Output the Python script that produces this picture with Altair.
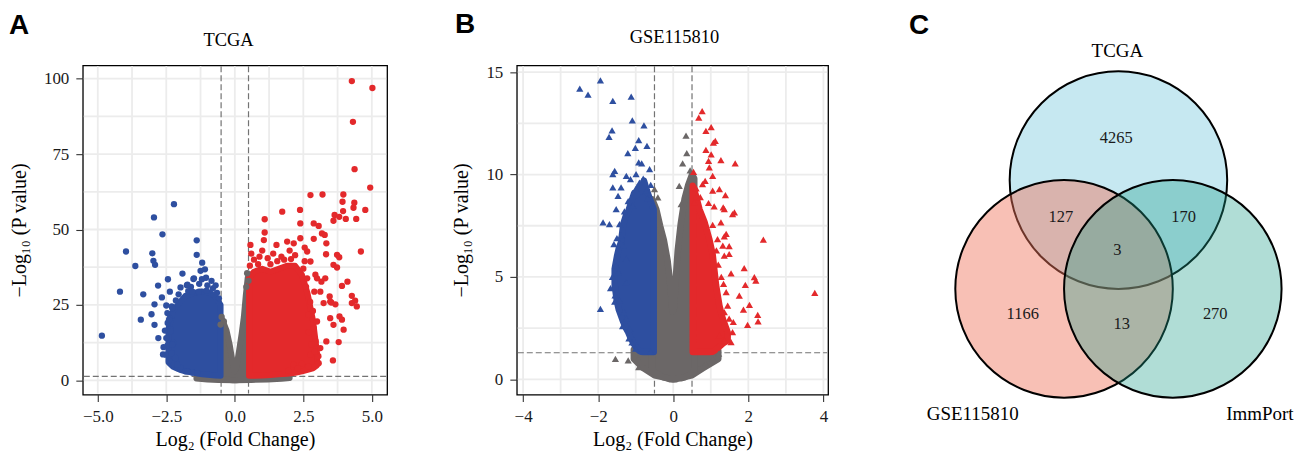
import altair as alt
import pandas as pd

# ---------------- colours / fonts ----------------
C_DOWN = "#2e4fa0"
C_UP = "#e3292b"
C_NS = "#6b6767"
GRID = "#ececec"
DASH = "#737373"
SERIF = "Liberation Serif"
SANS = "Liberation Sans"

# ---------------- Panel A : TCGA volcano ----------------
A_title = ["TCGA"]
A_letter = ["A"]
A_xticks = [-5.0, -2.5, 0.0, 2.5, 5.0]
A_yticks = [0, 25, 50, 75, 100]
A_xgrid = [-5.0, -3.75, -2.5, -1.25, 0.0, 1.25, 2.5, 3.75, 5.0]
A_ygrid = [0, 12.5, 25, 37.5, 50, 62.5, 75, 87.5, 100]
A_fc_cut = [-0.5, 0.5]
A_p_cut = [1.3]

A_down = [(-4.85, 14.8), (-4.19, 29.4), (-3.97, 42.7), (-3.63, 37.9), (-3.43, 20.1), (-3.34, 28.5),
          (-3.04, 21.9), (-3.01, 42.1), (-2.95, 54.0), (-2.97, 39.6), (-2.91, 38.3), (-2.93, 25.2),
          (-2.93, 18.4), (-2.79, 14.0), (-2.80, 31.4), (-2.64, 48.4), (-2.66, 27.5), (-2.22, 58.4),
          (-2.44, 33.5), (-2.37, 29.4), (-1.91, 35.4), (-1.39, 46.4), (-1.39, 41.6), (-1.19, 39.0),
          (-1.09, 36.8), (-1.25, 36.3), (-1.51, 33.6), (-2.52, 8.5), (-2.22, 5.2), (-2.10, 4.1),
          (-2.50, 14.0), (-2.46, 22.3), (-2.46, 11.5), (-2.37, 20.6), (-1.98, 30.8), (-1.49, 33.8),
          (-2.24, 5.7), (-1.98, 4.1), (-2.30, 24.5), (-2.15, 26.5), (-1.75, 31.5), (-1.60, 31.0),
          (-1.30, 32.0), (-1.00, 31.5), (-0.80, 30.5), (-0.65, 29.0), (-2.35, 17.0), (-2.45, 19.0),
          (-2.30, 9.0), (-2.40, 6.5), (-1.80, 3.0), (-1.55, 2.6), (-0.85, 33.0), (-1.05, 34.0),
          (-1.70, 29.6), (-2.05, 28.5), (-2.55, 16.5), (-2.25, 12.5), (-1.73, 31.7), (-1.55, 29.4),
          (-1.31, 29.4), (-1.03, 29.7), (-0.76, 28.3), (-0.58, 27.2), (-2.28, 23.9), (-2.40, 20.1),
          (-2.34, 16.2), (-2.28, 11.8), (-2.16, 7.4), (-2.10, 5.2), (-1.73, 3.0), (-1.37, 2.4),
          (-2.60, 11.0), (-2.62, 8.6), (-2.50, 24.8), (-1.20, 33.5), (-0.70, 31.5)]
A_up = [(4.27, 99.2), (5.02, 96.9), (4.31, 85.7), (4.37, 70.0), (4.94, 63.9), (4.60, 42.7),
        (3.96, 61.6), (3.93, 59.2), (4.36, 58.9), (4.33, 57.2), (4.76, 56.5), (3.95, 56.1),
        (3.64, 54.8), (3.81, 54.2), (3.60, 52.9), (4.05, 53.5), (4.43, 53.5), (3.20, 61.6),
        (2.76, 61.4), (2.38, 56.5), (1.73, 55.9), (1.09, 53.4), (1.09, 49.0), (2.39, 52.0),
        (2.88, 52.0), (3.06, 51.2), (3.18, 48.7), (3.28, 48.2), (2.88, 46.9), (2.39, 47.1),
        (1.91, 46.0), (1.52, 44.9), (1.06, 46.5), (0.57, 44.9), (3.34, 45.4), (3.73, 41.6),
        (3.81, 40.8), (4.11, 32.7), (3.91, 31.3), (4.27, 28.0), (4.27, 25.6), (4.45, 24.5),
        (4.39, 26.4), (3.60, 38.3), (3.73, 37.4), (3.52, 25.8), (3.67, 25.2), (3.82, 21.2),
        (3.91, 20.1), (3.97, 16.8), (3.79, 12.7), (3.58, 6.6), (3.06, 5.7), (2.69, 4.6),
        (3.12, 10.7), (2.76, 8.5), (3.24, 25.6), (3.00, 33.8), (3.16, 32.7), (3.30, 33.8),
        (2.15, 45.4), (2.15, 5.2), (3.48, 20.6), (3.34, 12.9), (2.88, 17.3), (3.48, 26.1),
        (3.33, 41.8), (2.94, 35.0), (2.76, 39.4), (2.64, 42.7), (2.64, 33.8), (2.90, 29.4),
        (3.12, 29.4), (3.46, 27.8), (3.60, 18.4), (2.69, 21.7), (3.00, 19.5), (0.70, 40.0),
        (0.90, 41.0), (1.20, 40.5), (1.40, 42.0), (1.70, 41.0), (2.00, 43.0), (2.20, 41.5),
        (0.55, 38.0), (0.60, 42.0), (1.30, 38.5), (2.50, 37.0), (2.55, 44.0), (2.75, 26.0),
        (2.85, 23.0), (2.95, 13.0), (3.05, 8.0), (2.45, 5.5), (2.30, 4.0), (1.95, 3.2),
        (1.80, 40.0), (1.00, 43.0), (2.60, 31.0), (2.80, 12.0), (2.55, 39.5), (1.55, 39.5),
        (0.85, 38.5), (2.05, 40.2), (2.70, 16.0), (2.92, 9.5)]
A_ns = [(0.45, 35.5), (0.50, 33.0), (-0.48, 21.0), (0.42, 31.0), (-0.40, 19.5), (-0.52, 18.5)]

# dense point clouds (outline: x, upper edge, lower edge)
A_down_core = ([-2.42, -2.25, -2.0, -1.8, -1.5, -1.2, -0.9, -0.7, -0.52],
               [17, 23, 26, 28, 29, 29.5, 29, 27.5, 25],
               [6, 4.5, 3.5, 3.0, 2.5, 2.0, 1.8, 1.6, 1.5])
A_up_core = ([0.52, 0.7, 1.0, 1.3, 1.6, 1.9, 2.2, 2.45, 2.65, 2.85, 3.0],
             [34, 36, 37, 36, 37, 38, 38, 35, 29, 20, 9],
             [1.5, 1.5, 1.6, 1.8, 2.0, 2.2, 2.5, 3.0, 3.5, 4.0, 5.0])
A_ns_v = ([-0.58, -0.45, -0.3, -0.18, -0.08, -0.01, 0.06, 0.15, 0.25, 0.33, 0.4, 0.47, 0.56],
          [19, 20, 16.5, 11.5, 6, 3, 4.5, 9.5, 15.5, 21, 28, 34, 35],
          [0.4, 0.3, 0.2, 0.1, 0.05, 0.0, 0.05, 0.1, 0.15, 0.2, 0.25, 0.3, 0.4])
A_ns_band = ([-1.4, -1.0, -0.6, 0.0, 0.6, 1.2, 1.7, 2.0],
             [1.0, 1.8, 2.0, 2.0, 2.0, 2.0, 1.6, 1.0],
             [0.6, 0.3, 0.15, 0.0, 0.15, 0.3, 0.5, 0.8])

# ---------------- Panel B : GSE115810 volcano ----------------
B_title = ["GSE115810"]
B_letter = ["B"]
B_xticks = [-4, -2, 0, 2, 4]
B_yticks = [0, 5, 10, 15]
B_xgrid = [-4, -3, -2, -1, 0, 1, 2, 3, 4]
B_ygrid = [0, 2.5, 5, 7.5, 10, 12.5, 15]
B_fc_cut = [-0.5, 0.5]
B_p_cut = [1.3]

B_down = [(-2.49, 14.19), (-2.27, 13.9), (-1.94, 14.6), (-1.61, 13.6), (-1.12, 13.8), (-1.09, 12.65),
          (-0.78, 12.4), (-1.63, 12.16), (-1.71, 11.84), (-0.92, 11.68), (-0.70, 11.4), (-1.01, 11.3),
          (-1.21, 11.04), (-0.92, 10.59), (-0.84, 10.55), (-0.63, 10.26), (-1.56, 10.18), (-1.61, 10.02),
          (-1.25, 9.94), (-0.99, 10.02), (-1.14, 9.78), (-1.39, 9.37), (-1.61, 9.37), (-1.87, 7.67),
          (-1.70, 7.58), (-1.43, 7.58), (-1.94, 3.44), (-1.67, 4.45), (-1.56, 3.8), (-1.43, 3.85),
          (-1.39, 7.02), (-1.52, 5.55), (-1.46, 5.23), (-1.25, 5.88), (-1.34, 6.53), (-1.25, 4.74),
          (-1.31, 3.28), (-1.25, 2.96), (-1.16, 2.47), (-1.52, 8.31), (-1.47, 8.96), (-1.08, 8.48),
          (-0.72, 9.21), (-0.68, 8.84), (-0.55, 8.48), (-0.90, 9.6), (-0.80, 9.8), (-0.60, 9.5),
          (-1.00, 9.3), (-1.20, 8.7), (-1.30, 8.2), (-1.10, 1.8), (-1.00, 1.5), (-0.60, 1.35),
          (-1.58, 6.6), (-1.62, 5.0), (-1.55, 4.1), (-1.35, 2.6), (-1.18, 2.0), (-1.50, 6.9)]
B_up = [(0.77, 13.1), (0.68, 12.78), (1.01, 12.32), (0.87, 12.13), (1.07, 11.56), (1.12, 11.64),
        (0.87, 11.2), (1.01, 10.99), (0.94, 10.67), (1.27, 10.70), (1.65, 10.55), (0.96, 10.35),
        (0.54, 10.13), (1.05, 9.94), (0.85, 9.69), (0.78, 9.53), (0.61, 9.32), (1.23, 9.29),
        (1.05, 9.21), (1.39, 9.0), (0.62, 8.96), (0.56, 8.64), (0.94, 8.61), (1.09, 8.45),
        (1.33, 8.40), (1.36, 8.31), (1.63, 8.15), (1.58, 8.07), (1.27, 7.67), (1.05, 7.54),
        (1.41, 7.10), (1.36, 6.98), (2.40, 6.82), (1.18, 6.85), (1.32, 6.53), (1.49, 6.50),
        (1.36, 6.04), (1.49, 6.12), (1.89, 5.43), (2.16, 4.99), (2.20, 4.82), (1.92, 4.61),
        (1.34, 4.66), (1.54, 5.18), (3.77, 4.22), (1.76, 4.09), (1.41, 4.26), (2.03, 3.64),
        (1.87, 3.41), (2.25, 3.15), (2.26, 2.83), (1.98, 2.66), (1.49, 2.96), (1.58, 2.31),
        (1.54, 1.82), (1.36, 1.90), (1.23, 2.14), (1.36, 3.28), (1.20, 5.6), (1.28, 5.0),
        (1.15, 6.3), (0.72, 8.9), (1.45, 3.6), (1.60, 2.8)]
B_ns = [(-1.54, 1.0), (-1.20, 0.93), (0.34, 11.9), (0.36, 11.04), (0.25, 10.55), (-0.94, 1.0),
        (1.05, 1.0), (1.21, 1.25), (0.87, 0.76), (-0.92, 0.6), (0.16, 9.45), (0.21, 8.56),
        (-0.50, 9.29), (-0.41, 8.88), (0.45, 10.2)]

B_down_core = ([-1.56, -1.5, -1.45, -1.39, -1.33, -1.26, -1.2, -1.13, -1.04, -0.97, -0.91, -0.85,
                -0.78, -0.7, -0.64, -0.58, -0.52],
               [5.4, 6.0, 6.4, 6.7, 7.6, 8.0, 8.2, 8.6, 9.1, 9.0, 9.4, 9.2, 9.7, 9.2, 8.9, 8.6, 8.3],
               [4.6, 3.8, 3.4, 3.1, 2.8, 2.5, 2.3, 2.0, 1.7, 1.5, 1.4, 1.35, 1.33, 1.33, 1.33, 1.33, 1.33])
B_up_core = ([0.52, 0.6, 0.7, 0.83, 0.96, 1.05, 1.14, 1.23, 1.32, 1.45],
             [9.45, 9.0, 8.3, 7.7, 6.85, 6.1, 4.6, 3.6, 2.95, 2.3],
             [1.33, 1.33, 1.33, 1.33, 1.33, 1.35, 1.45, 1.6, 1.75, 1.9])
B_ns_v = ([-0.56, -0.45, -0.35, -0.25, -0.15, -0.07, -0.02, 0.02, 0.07, 0.12, 0.2, 0.3, 0.4, 0.5, 0.56],
          [8.8, 8.3, 7.5, 6.8, 5.8, 4.5, 3.3, 3.5, 5.0, 6.3, 7.6, 8.8, 9.5, 10.0, 9.8],
          [0.4, 0.3, 0.2, 0.1, 0.05, 0.0, 0.0, 0.0, 0.0, 0.05, 0.05, 0.1, 0.2, 0.3, 0.4])
B_ns_band = ([-1.05, -0.8, -0.5, 0.0, 0.5, 0.8, 1.2],
             [1.45, 1.45, 1.45, 1.45, 1.45, 1.45, 1.4],
             [1.0, 0.55, 0.2, 0.0, 0.2, 0.55, 1.0])

# ---------------- Panel C : Venn ----------------
venn_letter = ["C"]
venn_sets = ["TCGA", "GSE115810", "ImmPort"]
venn_fill = ["#8dd1e3", "#ef735a", "#1d9e8a"]
venn_alpha = [0.5, 0.45, 0.35]
# circle centres in units of the circle radius
venn_cx = [0.0, -0.5, 0.5]
venn_cy = [-0.5, 0.5, 0.5]
venn_set_lx = [-0.01, -1.34, 1.30]
venn_set_ly = [-1.69, 1.65, 1.65]
venn_counts = ["4265", "127", "170", "3", "1166", "13", "270"]
venn_count_x = [-0.02, -0.53, 0.60, -0.01, -0.88, 0.03, 0.89]
venn_count_y = [-0.89, -0.16, -0.16, 0.14, 0.73, 0.82, 0.73]

# ---------------- layout constants ----------------
A_W, A_H = 305, 330
B_W, B_H = 312, 330
C_W, C_H = 345, 330
SPACING = 130
VENN_R = 109                    # circle radius, px
VENN_CX_PX, VENN_CY_PX = 161, 169.5


def pts_frame(ns, down, up):
    rows = []
    for g, lst in (("NS", ns), ("Down", down), ("Up", up)):
        for x, y in lst:
            rows.append({"x": x, "y": y, "g": g})
    return pd.DataFrame(rows)


def make_axis(values, expr, title, tpad):
    return alt.Axis(values=values, labelExpr=expr, title=title, titlePadding=tpad)


def volcano(w, h, xdom, ydom, xgrid, ygrid, xticks, yticks, xfmt, fc_cut, p_cut,
            cores, ns, down, up, shape, size, halo, title, letter,
            title_dx, title_dy, letter_dx, letter_dy):
    xs = alt.Scale(domain=xdom, nice=False, zero=False)
    ys = alt.Scale(domain=ydom, nice=False, zero=False)
    minus = "replace(format(datum.value, '%s'), '-', '\u2212')" % xfmt
    ax = make_axis(xticks, minus, "Log\u2082 (Fold Change)", 5)
    ay = make_axis(yticks, "format(datum.value, 'd')", "\u2212Log\u2081\u2080 (P value)", 14)
    X = lambda: alt.X("x:Q", scale=xs, axis=ax)
    Y = lambda: alt.Y("y:Q", scale=ys, axis=ay)
    gx = alt.Chart(pd.DataFrame({"x": xgrid})).mark_rule(color=GRID, strokeWidth=1.8).encode(
        x=X(), y=alt.value(1), y2=alt.value(h - 1))
    gy = alt.Chart(pd.DataFrame({"y": ygrid})).mark_rule(color=GRID, strokeWidth=1.8).encode(
        y=Y(), x=alt.value(1), x2=alt.value(w - 1))
    dvx = alt.Chart(pd.DataFrame({"x": fc_cut})).mark_rule(
        color=DASH, strokeWidth=1.2, strokeDash=[6, 3]).encode(
        x=X(), y=alt.value(1), y2=alt.value(h - 1))
    dhy = alt.Chart(pd.DataFrame({"y": p_cut})).mark_rule(
        color=DASH, strokeWidth=1.2, strokeDash=[6, 3]).encode(
        y=Y(), x=alt.value(1), x2=alt.value(w - 1))
    layers = [gx, gy, dvx, dhy]
    for core, col in cores:
        df = pd.DataFrame({"x": core[0], "y": core[1], "y2": core[2]})
        layers.append(alt.Chart(df).mark_area(
            color=col, stroke=col, strokeWidth=halo, strokeJoin="round", opacity=1
        ).encode(x=X(), y=Y(), y2="y2:Q"))
    pts = alt.Chart(pts_frame(ns, down, up)).mark_point(
        shape=shape, filled=True, size=size, opacity=1, strokeWidth=0
    ).encode(
        x=X(), y=Y(),
        color=alt.Color("g:N", scale=alt.Scale(domain=["NS", "Down", "Up"],
                                               range=[C_NS, C_DOWN, C_UP]), legend=None),
    )
    layers.append(pts)
    ttl = alt.Chart(pd.DataFrame({"t": title})).mark_text(
        font=SERIF, fontSize=18.5, color="black", align="center", baseline="middle"
    ).encode(text="t:N", x=alt.value(title_dx), y=alt.value(title_dy))
    let = alt.Chart(pd.DataFrame({"t": letter})).mark_text(
        font=SANS, fontSize=28, fontWeight="bold", color="black", align="left", baseline="top"
    ).encode(text="t:N", x=alt.value(letter_dx), y=alt.value(letter_dy))
    layers += [ttl, let]
    return alt.layer(*layers).properties(
        width=w, height=h, view=alt.ViewBackground(stroke="black", strokeWidth=1.3))


pA = volcano(A_W, A_H, [-5.546, 5.557], [-4.73, 104.4], A_xgrid, A_ygrid, A_xticks, A_yticks,
             ".1f", A_fc_cut, A_p_cut,
             [(A_ns_band, C_NS), (A_ns_v, C_NS), (A_down_core, C_DOWN), (A_up_core, C_UP)],
             A_ns, A_down, A_up, "circle", 40, 6, A_title, A_letter,
             146, -25, -74, -53)

pB = volcano(B_W, B_H, [-4.167, 4.125], [-0.745, 15.33], B_xgrid, B_ygrid, B_xticks, B_yticks,
             "d", B_fc_cut, B_p_cut,
             [(B_ns_band, C_NS), (B_ns_v, C_NS), (B_down_core, C_DOWN), (B_up_core, C_UP)],
             B_ns, B_down, B_up, "triangle-up", 52, 6.5, B_title, B_letter,
             158, -28, -62, -54)

# ---- Venn ----
vx = alt.Scale(domain=[-VENN_CX_PX / VENN_R, (C_W - VENN_CX_PX) / VENN_R], nice=False, zero=False)
vy = alt.Scale(domain=[-VENN_CY_PX / VENN_R, (C_H - VENN_CY_PX) / VENN_R], nice=False, zero=False,
               reverse=True)
circ_df = pd.DataFrame({"set": venn_sets, "cx": venn_cx, "cy": venn_cy,
                        "fillc": venn_fill, "alpha": venn_alpha})
circles = alt.Chart(circ_df).mark_point(
    shape="circle", filled=True, size=(2 * VENN_R) ** 2, stroke="black", strokeWidth=2,
    opacity=1, strokeOpacity=1
).encode(
    x=alt.X("cx:Q", scale=vx, axis=None),
    y=alt.Y("cy:Q", scale=vy, axis=None),
    fill=alt.Fill("fillc:N", scale=None),
    fillOpacity=alt.FillOpacity("alpha:Q", scale=None),
)
set_lab = alt.Chart(pd.DataFrame({"t": venn_sets, "x": venn_set_lx, "y": venn_set_ly})).mark_text(
    font=SERIF, fontSize=19, color="black", align="center", baseline="middle"
).encode(text="t:N", x=alt.X("x:Q", scale=vx, axis=None), y=alt.Y("y:Q", scale=vy, axis=None))
cnt_lab = alt.Chart(pd.DataFrame({"t": venn_counts, "x": venn_count_x, "y": venn_count_y})).mark_text(
    font=SERIF, fontSize=16.5, color="#1a1a1a", align="center", baseline="middle"
).encode(text="t:N", x=alt.X("x:Q", scale=vx, axis=None), y=alt.Y("y:Q", scale=vy, axis=None))
c_let = alt.Chart(pd.DataFrame({"t": venn_letter})).mark_text(
    font=SANS, fontSize=28, fontWeight="bold", color="black", align="left", baseline="top"
).encode(text="t:N", x=alt.value(-49), y=alt.value(-53))
pC = alt.layer(circles, set_lab, cnt_lab, c_let).properties(width=C_W, height=C_H)

chart = alt.hconcat(pA, pB, pC, spacing=SPACING, bounds="flush").properties(
    padding={"left": 8, "top": 10, "right": 4, "bottom": 4},
    background="white",
).configure_view(
    stroke="transparent"
).configure_axis(
    grid=False, domain=False, tickColor="#333333", tickSize=7, tickWidth=1.1, labelPadding=7,
    labelFont=SERIF, labelFontSize=17, labelColor="#1a1a1a",
    titleFont=SERIF, titleFontSize=20, titleFontWeight="normal", titleColor="black",
)

chart.save("out.html", embed_options={"renderer": "svg", "actions": False})
